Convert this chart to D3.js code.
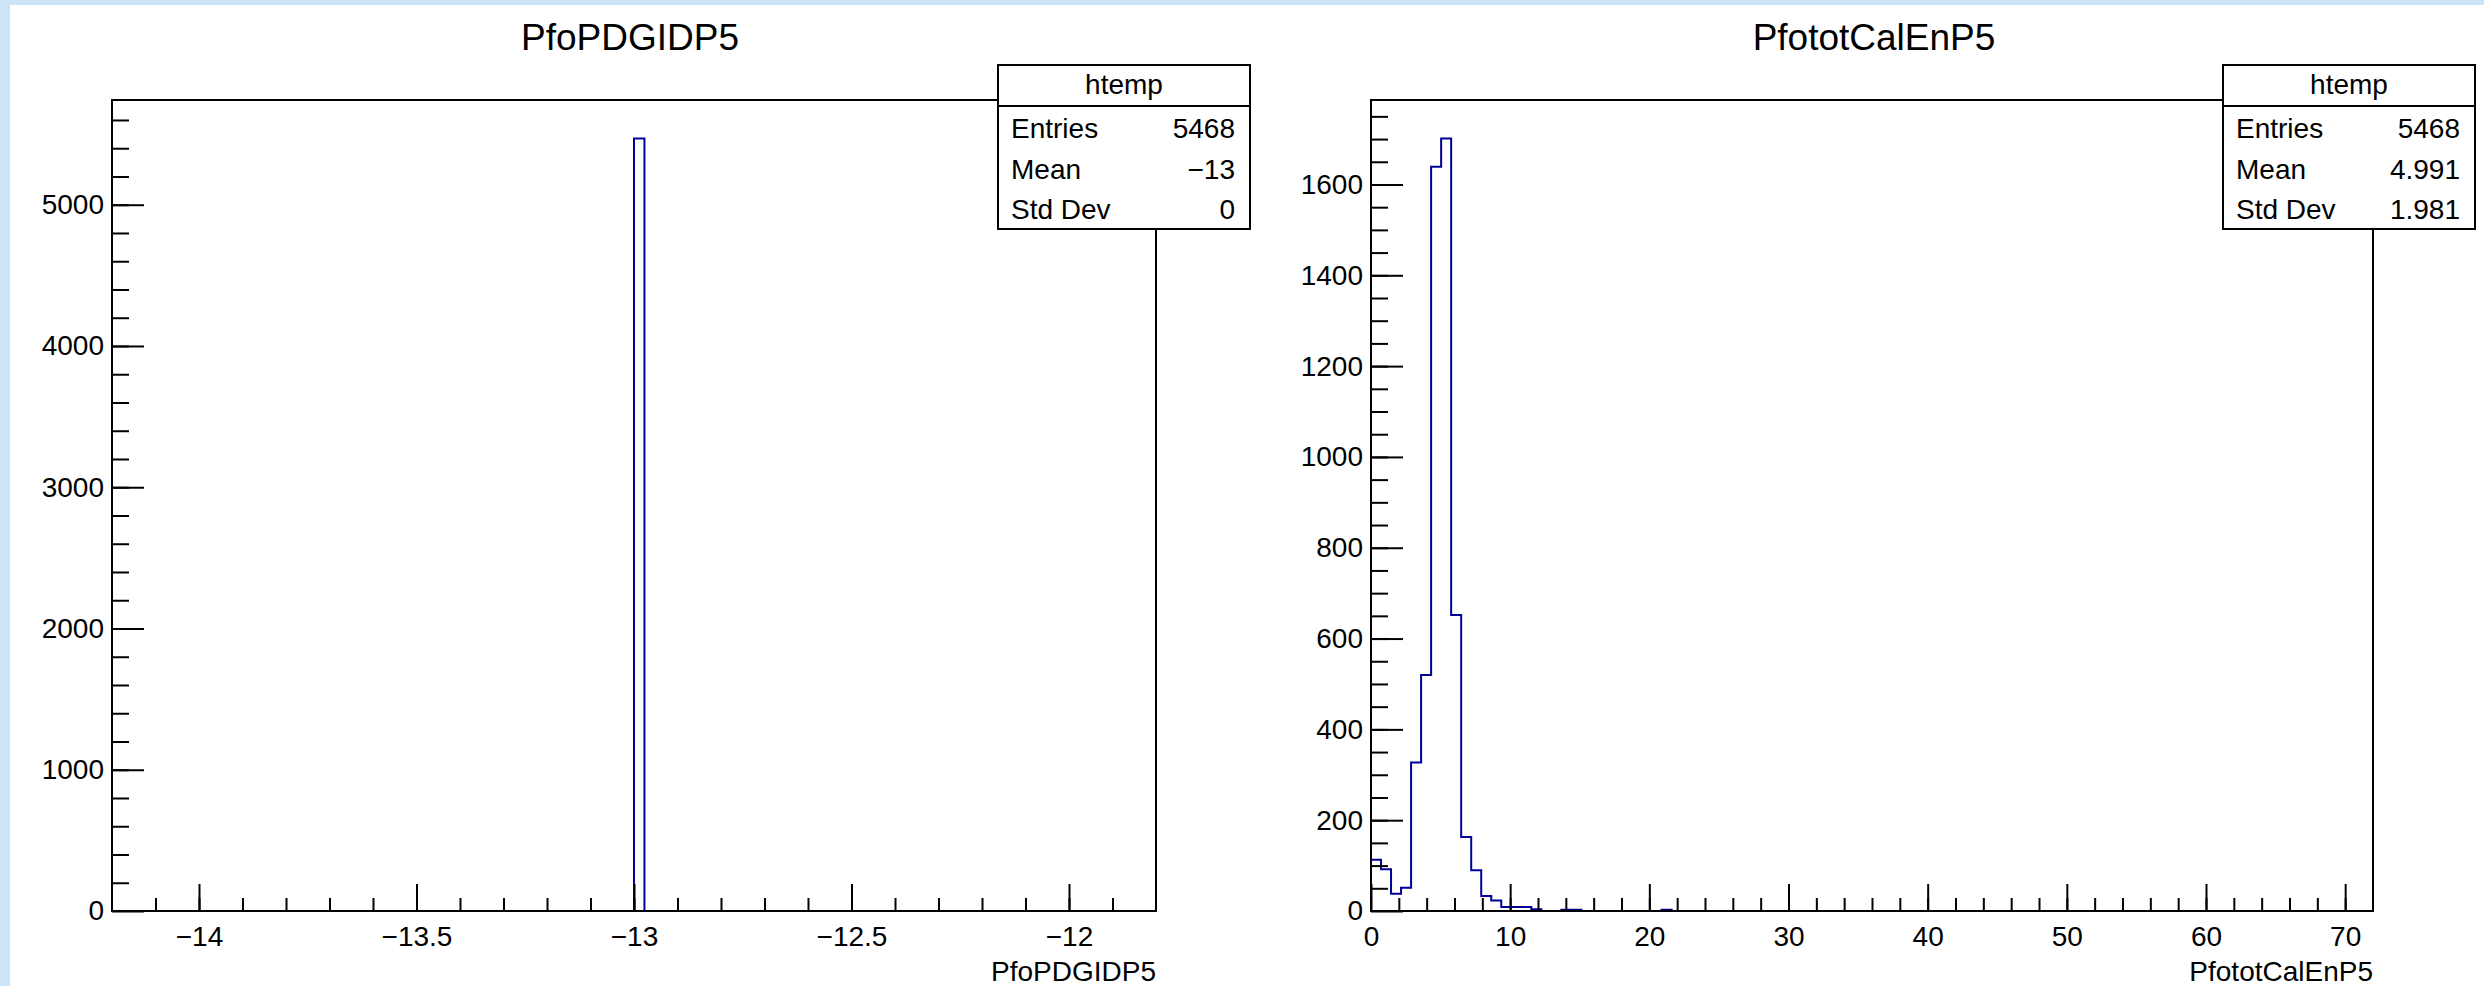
<!DOCTYPE html>
<html>
<head>
<meta charset="utf-8">
<script src="https://cdn.jsdelivr.net/npm/d3@7"></script>
<style>
  body { margin: 0; background: #cde3f8; }
  svg { display: block; font-family: "Liberation Sans", Arial, Helvetica, sans-serif; }
</style>
</head>
<body>
<svg id="canvas"></svg>
<script>
// Histogram data
var pdgTitle = "PfoPDGIDP5";
var pdgRange = [-14.2, -11.8];
var pdgBinWidth = 0.024;
var pdgBinLow = [-13.0];
var pdgCounts = [5468];
var pdgXTicks = [-14, -13.5, -13, -12.5, -12];
var pdgYTicks = [0, 1000, 2000, 3000, 4000, 5000];
var pdgStats = ["5468", "\u221213", "0"];

var calTitle = "PfototCalEnP5";
var calRange = [0, 72];
var calBinWidth = 0.72;
// first 30 bins from 0, all later bins are empty
var calCounts = [113, 92, 38, 51, 327, 520, 1639, 1701, 652, 163,
                 90, 33, 23, 9, 9, 9, 4, 0, 0, 3,
                 3, 0, 0, 0, 0, 0, 0, 0, 0, 3];
var calXTicks = [0, 10, 20, 30, 40, 50, 60, 70];
var calYTicks = [0, 200, 400, 600, 800, 1000, 1200, 1400, 1600];
var calStats = ["5468", "4.991", "1.981"];

var statNames = ["Entries", "Mean", "Std Dev"];
var statHeader = "htemp";

var W = 2484, H = 986;
var frameTop = 100, frameBottom = 911;
var lineColor = "#000099";

var svg = d3.select("#canvas").attr("width", W).attr("height", H);

// white pads on the light blue page
svg.append("rect").attr("x", 10).attr("y", 5).attr("width", W - 10).attr("height", H - 5).attr("fill", "#ffffff");

function drawPad(p) {
  var x = d3.scaleLinear().domain(p.range).range([p.left, p.right]);
  var y = d3.scaleLinear().domain([0, d3.max(p.bins, function (d) { return d.n; }) * 1.05]).range([frameBottom, frameTop]);

  // histogram outline as one step line
  var first = p.bins[0], last = p.bins[p.bins.length - 1];
  var pts = [[p.range[0], 0], [first.lo, 0]];
  p.bins.forEach(function (b) {
    pts.push([b.lo, b.n]); pts.push([b.lo + p.width, b.n]);
  });
  pts.push([last.lo + p.width, 0]);
  pts.push([p.range[1], 0]);
  svg.append("path")
    .datum(pts)
    .attr("d", d3.line().x(function (d) { return x(d[0]); }).y(function (d) { return y(d[1]); }))
    .attr("fill", "none")
    .attr("stroke", lineColor)
    .attr("stroke-width", 2);

  // frame
  svg.append("rect")
    .attr("x", p.left).attr("y", frameTop)
    .attr("width", p.right - p.left).attr("height", frameBottom - frameTop)
    .attr("fill", "none").attr("stroke", "#000").attr("stroke-width", 2);

  var none = function () { return ""; };

  // x axis, ticks pointing inwards
  svg.append("g")
    .attr("transform", "translate(0," + frameBottom + ")")
    .call(d3.axisBottom(x).tickValues(p.xMinor).tickSize(-13).tickFormat(none).tickSizeOuter(0));
  svg.append("g")
    .attr("class", "lab")
    .attr("transform", "translate(0," + frameBottom + ")")
    .call(d3.axisBottom(x).tickValues(p.xTicks).tickSize(-27).tickPadding(15).tickSizeOuter(0).tickFormat(d3.format("")));

  // y axis
  svg.append("g")
    .attr("transform", "translate(" + p.left + ",0)")
    .call(d3.axisLeft(y).tickValues(p.yMinor).tickSize(-17).tickFormat(none).tickSizeOuter(0));
  svg.append("g")
    .attr("class", "lab")
    .attr("transform", "translate(" + p.left + ",0)")
    .call(d3.axisLeft(y).tickValues(p.yTicks).tickSize(-32).tickPadding(8).tickSizeOuter(0).tickFormat(d3.format("d")));

  svg.selectAll(".domain").remove();
  svg.selectAll(".tick line").attr("stroke", "#000").attr("stroke-width", 2);
  svg.selectAll(".lab text").attr("font-size", 28).attr("font-family", "Liberation Sans, Arial, sans-serif").attr("fill", "#000");

  // titles
  svg.append("text").attr("x", p.titleX).attr("y", 50).attr("text-anchor", "middle")
    .attr("font-size", 37).text(p.title);
  svg.append("text").attr("x", p.right).attr("y", 981).attr("text-anchor", "end")
    .attr("font-size", 28).text(p.title);

  // stats box
  var bx = p.boxLeft, bw = 252;
  var box = svg.append("g");
  box.append("rect").attr("x", bx).attr("y", 65).attr("width", bw).attr("height", 164)
    .attr("fill", "#fff").attr("stroke", "#000").attr("stroke-width", 2);
  box.append("line").attr("x1", bx).attr("x2", bx + bw).attr("y1", 106).attr("y2", 106)
    .attr("stroke", "#000").attr("stroke-width", 2);
  box.append("text").attr("x", bx + bw / 2).attr("y", 94).attr("text-anchor", "middle")
    .attr("font-size", 28).text(statHeader);
  statNames.forEach(function (s, i) {
    box.append("text").attr("x", bx + 13).attr("y", 138 + i * 40.5).attr("font-size", 28).text(s);
    box.append("text").attr("x", bx + bw - 15).attr("y", 138 + i * 40.5).attr("text-anchor", "end")
      .attr("font-size", 28).text(p.stats[i]);
  });
}

drawPad({
  title: pdgTitle, titleX: 630,
  left: 112, right: 1156, range: pdgRange, width: pdgBinWidth,
  bins: pdgBinLow.map(function (lo, i) { return { lo: lo, n: pdgCounts[i] }; }),
  xTicks: pdgXTicks, xMinor: d3.range(-14.1, -11.85, 0.1),
  yTicks: pdgYTicks, yMinor: d3.range(200, 5700, 200),
  boxLeft: 998, stats: pdgStats
});

drawPad({
  title: calTitle, titleX: 1874,
  left: 1371, right: 2373, range: calRange, width: calBinWidth,
  bins: calCounts.map(function (n, i) { return { lo: calRange[0] + i * calBinWidth, n: n }; }),
  xTicks: calXTicks, xMinor: d3.range(2, 72, 2),
  yTicks: calYTicks, yMinor: d3.range(50, 1786, 50),
  boxLeft: 2223, stats: calStats
});
</script>
</body>
</html>
